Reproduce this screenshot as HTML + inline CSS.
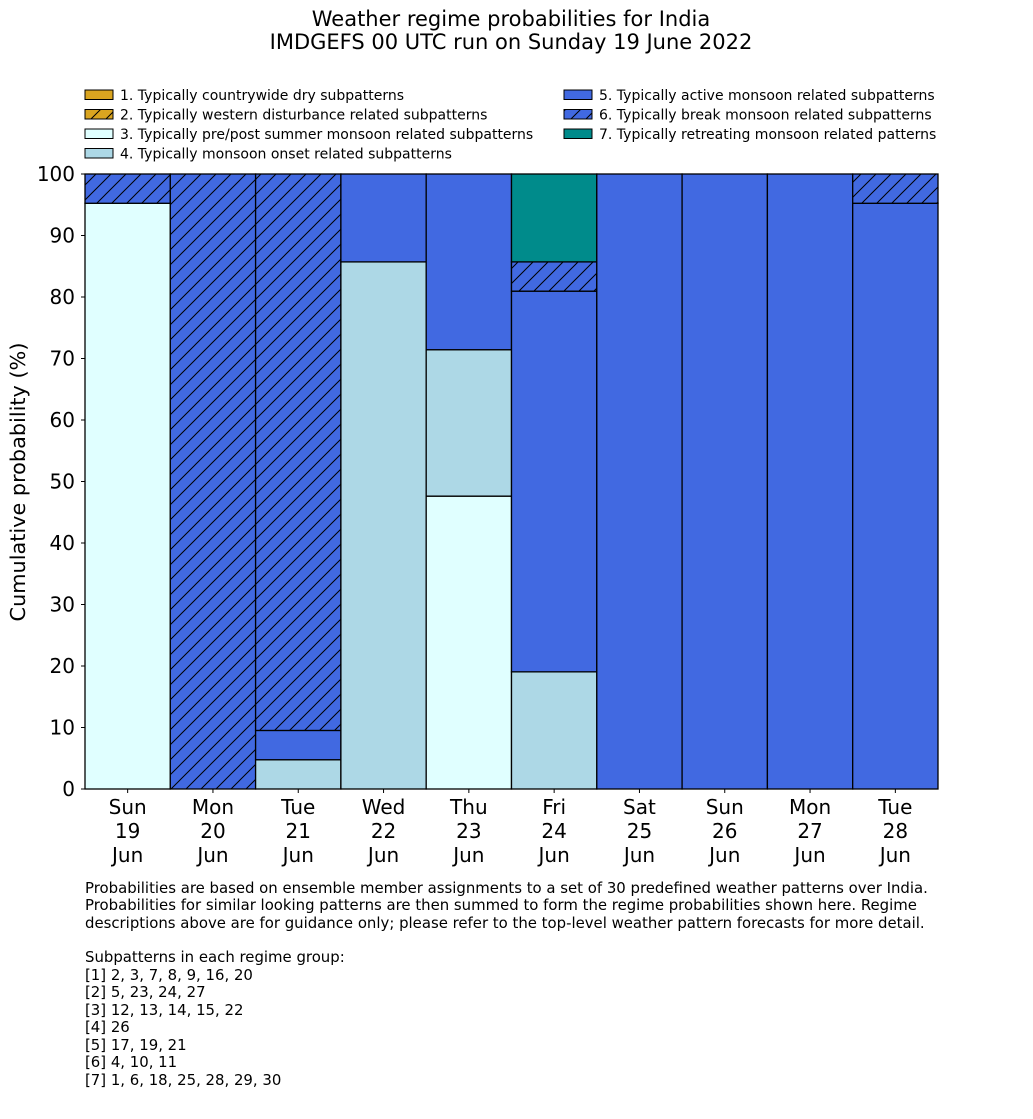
<!DOCTYPE html>
<html><head><meta charset="utf-8"><style>
body{margin:0;background:#fff}
svg text{font-family:"DejaVu Sans","Liberation Sans",sans-serif;fill:#000}
</style></head><body>
<svg id="chart" width="1033" height="1114" xmlns="http://www.w3.org/2000/svg">
<defs>
<pattern id="hatchBlue" patternUnits="userSpaceOnUse" width="15" height="15">
<rect width="15" height="15" fill="#4169E1"/>
<path d="M-2,17 L17,-2 M-4,4 L4,-4 M11,19 L19,11" stroke="#000" stroke-width="1"/>
</pattern>
<pattern id="hatchGold" patternUnits="userSpaceOnUse" width="15" height="15">
<rect width="15" height="15" fill="#DAA520"/>
<path d="M-2,17 L17,-2 M-4,4 L4,-4 M11,19 L19,11" stroke="#000" stroke-width="1"/>
</pattern>
</defs>
<text x="511" y="26" font-size="21" text-anchor="middle">Weather regime probabilities for India</text>
<text x="511" y="49" font-size="21" text-anchor="middle">IMDGEFS 00 UTC run on Sunday 19 June 2022</text>
<g id="legend"></g>
<g id="bars"></g>
<g id="axes"></g>
<text transform="translate(25,482) rotate(-90)" font-size="20.8" text-anchor="middle">Cumulative probability (%)</text>
<g font-size="14.9">
<text x="85" y="893">Probabilities are based on ensemble member assignments to a set of 30 predefined weather patterns over India.</text>
<text x="85" y="910">Probabilities for similar looking patterns are then summed to form the regime probabilities shown here. Regime</text>
<text x="85" y="928">descriptions above are for guidance only; please refer to the top-level weather pattern forecasts for more detail.</text>
<text x="85" y="962">Subpatterns in each regime group:</text>
<text x="85" y="980">[1] 2, 3, 7, 8, 9, 16, 20</text>
<text x="85" y="997">[2] 5, 23, 24, 27</text>
<text x="85" y="1015">[3] 12, 13, 14, 15, 22</text>
<text x="85" y="1032">[4] 26</text>
<text x="85" y="1050">[5] 17, 19, 21</text>
<text x="85" y="1067">[6] 4, 10, 11</text>
<text x="85" y="1085">[7] 1, 6, 18, 25, 28, 29, 30</text>
</g>
</svg>
<script>
const days = ["Sun","Mon","Tue","Wed","Thu","Fri","Sat","Sun","Mon","Tue"];
const dates = ["19","20","21","22","23","24","25","26","27","28"];
const regimeNames = ["1. Typically countrywide dry subpatterns","2. Typically western disturbance related subpatterns","3. Typically pre/post summer monsoon related subpatterns","4. Typically monsoon onset related subpatterns","5. Typically active monsoon related subpatterns","6. Typically break monsoon related subpatterns","7. Typically retreating monsoon related patterns"];
const regimeFills = ["#DAA520","url(#hatchGold)","#E0FFFF","#ADD8E6","#4169E1","url(#hatchBlue)","#008B8B"];
const r1 = [0,0,0,0,0,0,0,0,0,0];
const r2 = [0,0,0,0,0,0,0,0,0,0];
const r3 = [95.24,0,0,0,47.62,0,0,0,0,0];
const r4 = [0,0,4.76,85.71,23.81,19.05,0,0,0,0];
const r5 = [0,0,4.76,14.29,28.57,61.90,100,100,100,95.24];
const r6 = [4.76,100,90.48,0,0,4.76,0,0,0,4.76];
const r7 = [0,0,0,0,0,14.29,0,0,0,0];
const yTicks = [0,10,20,30,40,50,60,70,80,90,100];

const NS="http://www.w3.org/2000/svg";
const X0=85,X1=938,Y0=789,Y1=174;
const bw=(X1-X0)/days.length;
const xPos=i=>X0+i*bw;
const yPos=v=>Y0-(v/100)*(Y0-Y1);
function mk(t,a,p){const e=document.createElementNS(NS,t);for(const k in a)e.setAttribute(k,a[k]);p.appendChild(e);return e;}

const series=[r1,r2,r3,r4,r5,r6,r7];
const bars=document.getElementById('bars');
days.forEach((d,i)=>{
  let cum=0;
  series.forEach((s,k)=>{
    const v=s[i]; if(!v) return;
    const r=mk('rect',{x:xPos(i),y:yPos(cum+v),width:bw,height:yPos(cum)-yPos(cum+v),fill:regimeFills[k],stroke:'#000','stroke-width':1.3},bars);
    
    
    cum+=v;
  });
});

const ax=document.getElementById('axes');
let l=mk('line',{x1:X0,y1:Y1,x2:X0,y2:Y0,stroke:'#000','stroke-width':1},ax);


l=mk('line',{x1:X0,y1:Y0,x2:X1,y2:Y0,stroke:'#000','stroke-width':1},ax);


yTicks.forEach(t=>{
  mk('line',{x1:X0-4,x2:X0,y1:yPos(t),y2:yPos(t),stroke:'#000'},ax);
  const tx=mk('text',{x:75,y:yPos(t)+7,'font-size':20,'text-anchor':'end'},ax);
  
  
  tx.textContent=t;
});
days.forEach((d,i)=>{
  const cx=xPos(i)+bw/2;
  mk('line',{x1:cx,x2:cx,y1:Y0,y2:Y0+4,stroke:'#000'},ax);
  [d,dates[i],"Jun"].forEach((s,j)=>{
    const tx=mk('text',{x:cx,y:814+j*24,'font-size':20,'text-anchor':'middle'},ax);
    
    
    tx.textContent=s;
  });
});

const lg=document.getElementById('legend');
regimeNames.forEach((n,k)=>{
  const col=k<4?0:1,row=k<4?k:k-4;
  const x=col?564:85,y=90+row*19.5;
  const r=mk('rect',{x:x,y:y,width:28,height:9.5,fill:regimeFills[k],stroke:'#000','stroke-width':1},lg);
  
  
  const t=mk('text',{x:x+35,y:y+10,'font-size':14},lg);
  
  
  t.textContent=n;
});
</script>
</body></html>
